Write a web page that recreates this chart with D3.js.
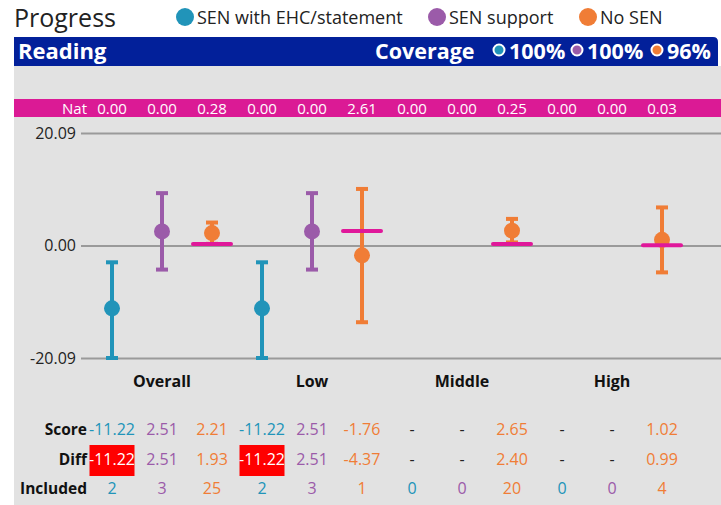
<!DOCTYPE html>
<html>
<head>
<meta charset="utf-8">
<script src="https://cdn.jsdelivr.net/npm/d3@7"></script>
<style>
  body { margin: 0; background: #fff; }
  svg { display: block; font-family: "Open Sans", "Noto Sans", sans-serif; }
</style>
</head>
<body>
<div id="chart"></div>
<script>
// chart values
const categories = ["Overall", "Low", "Middle", "High"];
const series = ["SEN with EHC/statement", "SEN support", "No SEN"];
const colors = ["#2194b9", "#9b5ba9", "#f07d36"];
const coverage = ["100%", "100%", "96%"];

// rows are categories, columns are series (null = no pupils)
const score = [[-11.22, 2.51, 2.21], [-11.22, 2.51, -1.76], [null, null, 2.65], [null, null, 1.02]];
const diff = [[-11.22, 2.51, 1.93], [-11.22, 2.51, -4.37], [null, null, 2.40], [null, null, 0.99]];
const included = [[2, 3, 25], [2, 3, 1], [0, 0, 20], [0, 0, 4]];
const nat = [[0, 0, 0.28], [0, 0, 2.61], [0, 0, 0.25], [0, 0, 0.03]];
const ciLow = [[-20.09, -4.3, 0.3], [-20.09, -4.3, -13.7], [null, null, 0.55], [null, null, -4.8]];
const ciHigh = [[-3.0, 9.35, 4.1], [-3.0, 9.35, 10.1], [null, null, 4.75], [null, null, 6.8]];
const diffFlag = [[true, false, false], [true, false, false], [false, false, false], [false, false, false]];
const yTicks = [-20.09, 0, 20.09];

const width = 721, height = 505;
const svg = d3.select("#chart").append("svg")
  .attr("width", width).attr("height", height);

// plain hyphen for negatives, like the original
const fmt = d3.formatLocale({ decimal: ".", thousands: ",", grouping: [3], currency: ["", ""], minus: "-" }).format(".2f");

// flatten into cells
const cells = [];
categories.forEach((c, i) => series.forEach((s, j) => cells.push({
  cat: c, ser: s, j: j,
  score: score[i][j], diff: diff[i][j], inc: included[i][j], nat: nat[i][j],
  lo: ciLow[i][j], hi: ciHigh[i][j], flag: diffFlag[i][j]
})));

const x0 = d3.scaleBand().domain(categories).range([87, 687]);
const x1 = d3.scaleBand().domain(series).range([0, x0.bandwidth()]);
const cx = d => x0(d.cat) + x1(d.ser) + x1.bandwidth() / 2;
const y = d3.scaleLinear().domain([-20.09, 20.09]).range([358, 133]);

// background panel
svg.append("rect").attr("x", 14).attr("y", 66).attr("width", width - 14).attr("height", height - 66)
  .attr("fill", "#e2e2e2");

// title + legend
svg.append("text").attr("x", 14).attr("y", 27).attr("font-size", 25).attr("fill", "#222").text("Progress");
const legX = [185, 437, 588];
const leg = svg.append("g").selectAll("g").data(series).join("g")
  .attr("transform", (d, i) => `translate(${legX[i]},17)`);
leg.append("circle").attr("r", 9).attr("fill", (d, i) => colors[i]);
leg.append("text").attr("x", 12).attr("y", 6.5).attr("font-size", 18).attr("fill", "#222").text(d => d);

// subject bar
svg.append("path")
  .attr("d", "M14,37 H713 Q718,37 718,42 V66 H14 Z")
  .attr("fill", "#02209a");
svg.append("text").attr("x", 18).attr("y", 58.5).attr("font-size", 22).attr("font-weight", "bold")
  .attr("fill", "#fff").text("Reading");
svg.append("text").attr("x", 375).attr("y", 58.5).attr("font-size", 21.5).attr("font-weight", "bold")
  .attr("fill", "#fff").text("Coverage");
const covX = [499, 577, 657];
const cov = svg.append("g").selectAll("g").data(coverage).join("g")
  .attr("transform", (d, i) => `translate(${covX[i]},50)`);
cov.append("circle").attr("r", 5.5).attr("fill", (d, i) => colors[i]).attr("stroke", "#fff").attr("stroke-width", 2);
cov.append("text").attr("x", 10).attr("y", 8.5).attr("font-size", 21.5).attr("font-weight", "bold")
  .attr("fill", "#fff").text(d => d);

// national bar
svg.append("rect").attr("x", 14).attr("y", 99).attr("width", width - 14).attr("height", 18).attr("fill", "#db1a95");
svg.append("text").attr("x", 87).attr("y", 113.5).attr("text-anchor", "end").attr("font-size", 15)
  .attr("fill", "#fff").text("Nat");
svg.append("g").selectAll("text").data(cells).join("text")
  .attr("x", cx).attr("y", 113.5).attr("text-anchor", "middle").attr("font-size", 15)
  .attr("fill", "#fff").text(d => fmt(d.nat));

// y axis
const yAxis = svg.append("g").attr("transform", "translate(81,0)")
  .call(d3.axisLeft(y).tickValues(yTicks).tickFormat(fmt).tickSize(-(width - 81)).tickPadding(5));
yAxis.select(".domain").remove();
yAxis.selectAll(".tick line").attr("stroke", "#9a9a9a").attr("stroke-width", 2);
yAxis.selectAll(".tick text").attr("font-size", 16).attr("fill", "#222")
  .attr("font-family", "'Open Sans', 'Noto Sans', sans-serif");

// error bars
const pts = cells.filter(d => d.score !== null);
const eb = svg.append("g").selectAll("g").data(pts).join("g")
  .attr("stroke", d => colors[d.j]).attr("fill", d => colors[d.j]);
eb.append("line").attr("x1", cx).attr("x2", cx).attr("y1", d => y(d.lo)).attr("y2", d => y(d.hi))
  .attr("stroke-width", 4);
eb.append("line").attr("x1", d => cx(d) - 6).attr("x2", d => cx(d) + 6)
  .attr("y1", d => y(d.hi)).attr("y2", d => y(d.hi)).attr("stroke-width", 4);
eb.append("line").attr("x1", d => cx(d) - 6).attr("x2", d => cx(d) + 6)
  .attr("y1", d => y(d.lo)).attr("y2", d => y(d.lo)).attr("stroke-width", 4);
eb.append("circle").attr("cx", cx).attr("cy", d => y(d.score)).attr("r", 8).attr("stroke", "none");

// national markers
svg.append("g").selectAll("line").data(pts.filter(d => d.nat !== 0)).join("line")
  .attr("x1", d => cx(d) - 19).attr("x2", d => cx(d) + 19)
  .attr("y1", d => y(d.nat)).attr("y2", d => y(d.nat))
  .attr("stroke", "#e0189a").attr("stroke-width", 4).attr("stroke-linecap", "round");

// category labels
svg.append("g").selectAll("text").data(categories).join("text")
  .attr("x", d => x0(d) + x0.bandwidth() / 2).attr("y", 387).attr("text-anchor", "middle")
  .attr("font-size", 16).attr("font-weight", "bold").attr("fill", "#111").text(d => d);

// table
const rows = [
  { label: "Score", y: 435, val: d => d.score === null ? "-" : fmt(d.score) },
  { label: "Diff", y: 465, val: d => d.diff === null ? "-" : fmt(d.diff) },
  { label: "Included", y: 494, val: d => String(d.inc) }
];
rows.forEach(r => {
  svg.append("text").attr("x", 87).attr("y", r.y).attr("text-anchor", "end")
    .attr("font-size", 15.5).attr("font-weight", "bold").attr("fill", "#111").text(r.label);
  if (r.label === "Diff") {
    svg.append("g").selectAll("rect").data(cells.filter(d => d.flag)).join("rect")
      .attr("x", d => cx(d) - 22.5).attr("y", r.y - 20).attr("width", 45).attr("height", 31)
      .attr("fill", "#ff0000");
  }
  svg.append("g").selectAll("text").data(cells).join("text")
    .attr("x", cx).attr("y", r.y).attr("text-anchor", "middle").attr("font-size", 16)
    .attr("fill", d => (r.label === "Diff" && d.flag) ? "#fff" : (r.val(d) === "-" ? "#222" : colors[d.j]))
    .text(r.val);
});
</script>
</body>
</html>
